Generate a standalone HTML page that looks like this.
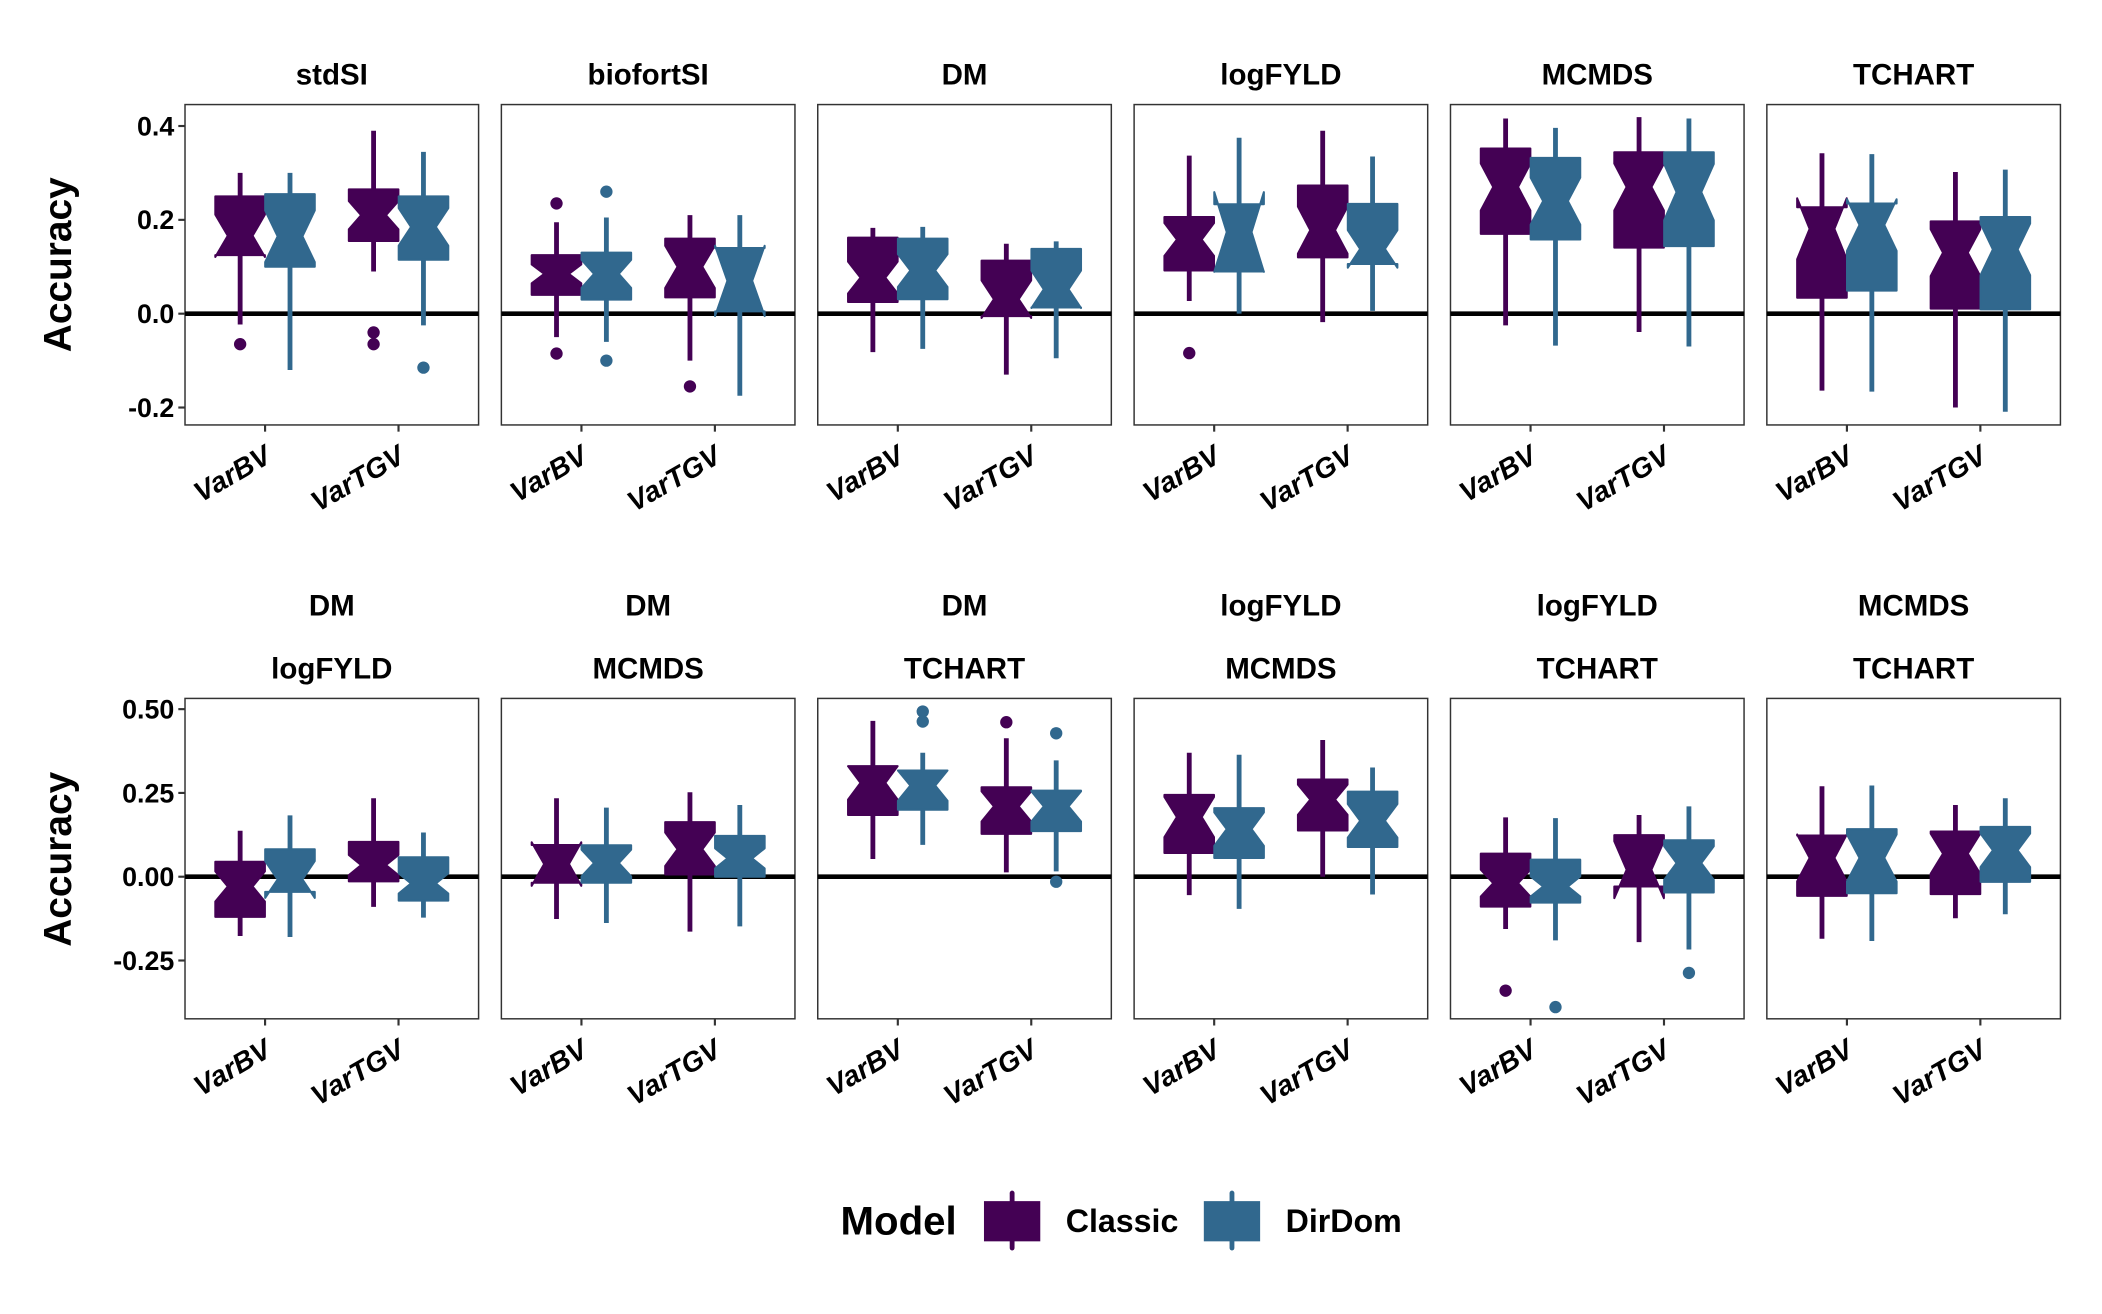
<!DOCTYPE html>
<html><head><meta charset="utf-8"><style>
html,body{margin:0;padding:0;background:#fff;}
svg{display:block;font-family:"Liberation Sans",Arial,sans-serif;}
</style></head><body>
<svg id="chart" width="2102" height="1314" viewBox="0 0 1568 980.2" xmlns="http://www.w3.org/2000/svg"></svg>
<script>
// ---- data (panel order: row1 then row2; each panel: [VarBV, VarTGV]) ----
const stripTop = ["stdSI","biofortSI","DM","logFYLD","MCMDS","TCHART","DM","DM","DM","logFYLD","logFYLD","MCMDS"];
const stripBottom = ["","","","","","","logFYLD","MCMDS","TCHART","MCMDS","TCHART","TCHART"];
const categories = ["VarBV","VarTGV"];
const models = ["Classic","DirDom"];
const ticksRow1 = [-0.2,0.0,0.2,0.4];
const tickLabelsRow1 = ["-0.2","0.0","0.2","0.4"];
const ticksRow2 = [-0.25,0,0.25,0.5];
const tickLabelsRow2 = ["-0.25","0.00","0.25","0.50"];

const cLow  = [-0.023,0.09, -0.05,-0.10, -0.082,-0.13, 0.027,-0.018, -0.025,-0.039, -0.164,-0.2,  -0.177,-0.09, -0.126,-0.164, 0.053,0.013, -0.055,0.0,  -0.156,-0.195, -0.185,-0.124];
const cQ1   = [0.125,0.155, 0.04,0.035,  0.025,-0.005, 0.092,0.12,  0.17,0.141,   0.034,0.011,  -0.12,-0.014,  -0.018,0.007,  0.184,0.128, 0.071,0.138, -0.089,-0.029, -0.057,-0.052];
const cMed  = [0.166,0.21,  0.085,0.10,  0.077,0.031,  0.158,0.178, 0.27,0.27,    0.181,0.13,   -0.029,0.035,  0.038,0.082,   0.28,0.21,   0.178,0.23,  -0.019,0.021,  0.056,0.069];
const cQ3   = [0.25,0.265,  0.125,0.16,  0.162,0.113,  0.206,0.273, 0.352,0.344,  0.227,0.197,  0.045,0.104,   0.095,0.163,   0.33,0.267,  0.244,0.29,  0.069,0.124,   0.123,0.135];
const cHigh = [0.30,0.39,   0.195,0.21,  0.183,0.149,  0.337,0.39,  0.416,0.419,  0.342,0.302,  0.137,0.234,   0.234,0.252,   0.465,0.413, 0.37,0.408,  0.177,0.184,   0.27,0.214];
const cNotch= [0.045,0.03,  0.02,0.045,  0.034,0.04,   0.035,0.05,  0.05,0.05,    0.065,0.05,   0.045,0.03,    0.065,0.05,    0.05,0.045,  0.06,0.045,  0.04,0.085,    0.07,0.06];
const cOut  = [[-0.065],[-0.04,-0.065], [0.235,-0.085],[-0.155], [],[], [-0.084],[], [],[], [],[], [],[], [],[], [],[0.461], [],[], [-0.34],[], [],[]];

const dLow  = [-0.12,-0.025, -0.06,-0.175, -0.075,-0.095, 0.0,0.006,  -0.068,-0.07, -0.166,-0.209, -0.18,-0.122, -0.138,-0.148, 0.095,0.016, -0.096,-0.053, -0.19,-0.217, -0.192,-0.112];
const dQ1   = [0.10,0.115,  0.03,0.005,   0.031,0.013,  0.09,0.106,  0.158,0.144,  0.049,0.009,  -0.045,-0.071, -0.018,0.0,    0.2,0.136,   0.056,0.089,  -0.077,-0.047, -0.049,-0.015];
const dMed  = [0.165,0.185, 0.085,0.07,   0.092,0.052,  0.174,0.138, 0.24,0.259,   0.189,0.137,  -0.008,-0.02,  0.041,0.055,   0.272,0.21,  0.142,0.167,  -0.029,0.041,  0.056,0.079];
const dQ3   = [0.255,0.25,  0.13,0.14,    0.16,0.138,   0.233,0.234, 0.332,0.344,  0.235,0.206,  0.082,0.058,   0.094,0.122,   0.317,0.257, 0.205,0.254,  0.051,0.109,   0.142,0.149];
const dHigh = [0.30,0.345,  0.205,0.21,   0.185,0.154,  0.375,0.335, 0.396,0.416,  0.34,0.307,   0.183,0.132,   0.206,0.214,   0.37,0.347,  0.364,0.326,  0.175,0.21,    0.272,0.234];
const dNotch= [0.055,0.04,  0.03,0.075,   0.035,0.04,   0.085,0.04,  0.05,0.06,    0.055,0.055,  0.055,0.03,    0.04,0.03,     0.045,0.045, 0.05,0.05,   0.03,0.05,     0.07,0.05];
const dOut  = [[],[-0.115], [0.26,-0.10],[], [],[], [],[], [],[], [],[], [],[], [],[], [0.493,0.463],[0.428,-0.015], [],[], [-0.389],[-0.287], [],[]];

const colors = ["#440154","#31688e"];
// ---- layout ----
const NS="http://www.w3.org/2000/svg";
const svg=document.getElementById('chart');
const colX=[138,374,610,846,1082,1318], PW=219;
const rows=[{top:78,bot:317,zero:234,scale:350,ticks:ticksRow1,labels:tickLabelsRow1},
            {top:521,bot:760,zero:654,scale:250,ticks:ticksRow2,labels:tickLabelsRow2}];
function mk(tag,attrs,parent){const e=document.createElementNS(NS,tag);for(const k in attrs)e.setAttribute(k,attrs[k]);(parent||svg).appendChild(e);return e;}
function xCat(px,i){return px+PW*((i+0.6)/2.2);}

for(let p=0;p<12;p++){
  const r=rows[p<6?0:1], px=colX[p%6];
  const yv=v=>r.zero-r.scale*v;
  const g=mk('g',{});
  
  
  if(p<6){
    const t=mk('text',{x:px+PW/2,y:63,'text-anchor':'middle','font-size':'22','font-weight':'bold'},g);
    t.textContent=stripTop[p];
    
    
  } else {
    const t=mk('text',{x:px+PW/2,y:459,'text-anchor':'middle','font-size':'22','font-weight':'bold'},g);
    t.textContent=stripTop[p];
    
    
    const t2=mk('text',{x:px+PW/2,y:506,'text-anchor':'middle','font-size':'22','font-weight':'bold'},g);
    t2.textContent=stripBottom[p];
    
    
  }
  const frame=mk('rect',{x:px,y:r.top,width:PW,height:r.bot-r.top,fill:'#fff',stroke:'#333','stroke-width':1.1},g);
  
  
  const zl=mk('line',{x1:px,x2:px+PW,y1:yv(0),y2:yv(0),stroke:'#000','stroke-width':3.5},g);
  
  
  if(p%6===0){
    r.ticks.forEach((v,i)=>{
      mk('line',{x1:px-5,x2:px,y1:yv(v),y2:yv(v),stroke:'#333','stroke-width':1.6},g);
      const tl=mk('text',{x:px-8,y:yv(v)+7,'text-anchor':'end','font-size':'20','font-weight':'bold'},g);
      tl.textContent=r.labels[i];
      
      
    });
  }
  categories.forEach((c,ci)=>{
    const cx=xCat(px,ci);
    mk('line',{x1:cx,x2:cx,y1:r.bot,y2:r.bot+5,stroke:'#333','stroke-width':1.6},g);
    const tl=mk('text',{x:cx+6,y:r.bot+27,'text-anchor':'end','font-size':'21','font-weight':'bold','font-style':'italic',transform:`rotate(-30 ${cx+6} ${r.bot+27})`},g);
    tl.textContent=c;
    
    
  });
  for(let ci=0;ci<2;ci++){
    for(let m=0;m<2;m++){
      const k=p*2+ci;
      const A=m===0?[cLow,cQ1,cMed,cQ3,cHigh,cNotch,cOut]:[dLow,dQ1,dMed,dQ3,dHigh,dNotch,dOut];
      const lo=A[0][k],q1=A[1][k],md=A[2][k],q3=A[3][k],hi=A[4][k],nt=A[5][k],outs=A[6][k];
      const cx=xCat(px,ci)+(m===0?-18.6:18.6), w=37, L=cx-w/2, R=cx+w/2;
      const col=colors[m];
      const wl=mk('line',{x1:cx,x2:cx,y1:yv(hi),y2:yv(lo),stroke:col,'stroke-width':3.6},g);
      
      
      const pts=[[L,yv(q3)],[R,yv(q3)],[R,yv(md+nt)],[cx+w/4,yv(md)],[R,yv(md-nt)],[R,yv(q1)],[L,yv(q1)],[L,yv(md-nt)],[cx-w/4,yv(md)],[L,yv(md+nt)]];
      const bx=mk('polygon',{points:pts.map(q=>q[0].toFixed(1)+','+q[1].toFixed(1)).join(' '),fill:col,stroke:col,'stroke-width':1.5,'stroke-linejoin':'round'},g);
      
      
      outs.forEach(o=>{
        const c=mk('circle',{cx:cx,cy:yv(o),r:4.6,fill:col},g);
        
        
      });
    }
  }
}
[197.5,641].forEach(y=>{
  const t=mk('text',{x:0,y:0,'text-anchor':'middle','font-size':'29','font-weight':'bold',transform:`translate(53 ${y}) rotate(-90)`});
  t.textContent="Accuracy";
  
  
});
const lg=mk('g',{});


const lt=mk('text',{x:627,y:921,'font-size':'30','font-weight':'bold'},lg);
lt.textContent="Model";


[[734,795],[898,959]].forEach((pos,m)=>{
  const ke=mk('g',{},lg);
  
  
  mk('line',{x1:pos[0]+21,x2:pos[0]+21,y1:890,y2:931,stroke:colors[m],'stroke-width':3.6,'stroke-linecap':'round'},ke);
  mk('rect',{x:pos[0],y:896,width:42,height:30,fill:colors[m]},ke);
  const t=mk('text',{x:pos[1],y:919,'font-size':'24','font-weight':'bold'},ke);
  t.textContent=models[m];
});
</script>
</body></html>
